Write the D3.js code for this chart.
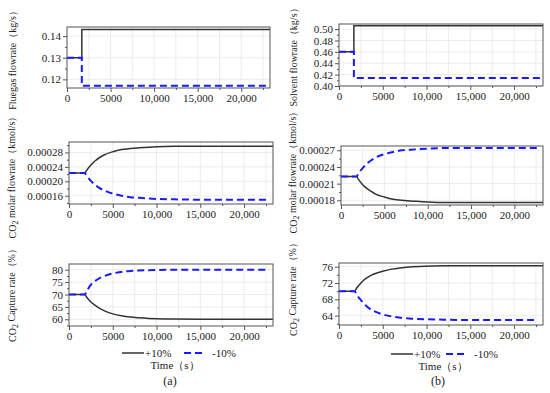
<!DOCTYPE html>
<head>
<meta charset="utf-8">
<title>Step responses</title>
<script src="https://d3js.org/d3.v7.min.js"></script>
<style>
body { margin: 0; background: #fff; }
svg text { font-family: "Liberation Serif", "Times New Roman", Times, serif; fill: #222; }
</style>
</head>
<body>
<script>
// time axes (s)
var tStep = [0, 1700, 1700, 23300];
var tCurve = [0, 1800, 2000, 2500, 3000, 3500, 4000, 5000, 6000, 7000, 8000, 10000, 12000, 15000, 20000, 23300];
var tCurveDash = [0, 1800, 2000, 2500, 3000, 3500, 4000, 5000, 6000, 7000, 8000, 10000, 12000, 15000, 20000, 22600];

// (a) flue gas flowrate kg/s
var fluePlus = [0.13, 0.13, 0.143, 0.143];
var flueMinus = [0.13, 0.13, 0.117, 0.117];
// (b) solvent flowrate kg/s
var solvPlus = [0.46, 0.46, 0.506, 0.506];
var solvMinus = [0.46, 0.46, 0.414, 0.414];

// CO2 molar flowrate kmol/s
var molarPlusA = [0.000223, 0.000223, 0.000230, 0.000245, 0.000257, 0.000266, 0.000273, 0.000282, 0.000288, 0.000291, 0.000293, 0.000296, 0.000297, 0.000297, 0.000297, 0.000297];
var molarMinusA = [0.000223, 0.000223, 0.000216, 0.000201, 0.000190, 0.000181, 0.000175, 0.000166, 0.000160, 0.000156, 0.000154, 0.000151, 0.000150, 0.000149, 0.000149, 0.000149];
var molarPlusB = [0.000223, 0.000223, 0.000218, 0.000208, 0.000201, 0.000196, 0.000191, 0.000186, 0.000182, 0.000180, 0.000179, 0.000177, 0.000176, 0.000176, 0.000176, 0.000176];
var molarMinusB = [0.000223, 0.000223, 0.000228, 0.000238, 0.000246, 0.000252, 0.000257, 0.000263, 0.000267, 0.000270, 0.000271, 0.000273, 0.000274, 0.000274, 0.000274, 0.000274];

// CO2 capture rate %
var capPlusA = [70, 70, 69.0, 67.0, 65.6, 64.4, 63.5, 62.2, 61.4, 60.9, 60.6, 60.2, 60.1, 60.0, 60.0, 60.0];
var capMinusA = [70, 70, 71.2, 74.0, 75.5, 76.6, 77.4, 78.5, 79.1, 79.5, 79.7, 79.9, 80, 80, 80, 80];
var capPlusB = [70, 70, 70.7, 72.0, 73.0, 73.7, 74.2, 74.9, 75.4, 75.7, 75.9, 76.1, 76.2, 76.2, 76.2, 76.2];
var capMinusB = [70, 70, 69.2, 67.8, 66.6, 65.7, 65.1, 64.3, 63.8, 63.5, 63.3, 63.1, 63.0, 62.9, 62.9, 62.9];

var xTicks = [0, 5000, 10000, 15000, 20000];
var legendLabels = ["+10%", "-10%"];

var serif = "'Liberation Serif', 'Times New Roman', Times, serif";
var width = 550, height = 393;
var svg = d3.select("body").append("svg")
    .attr("width", width)
    .attr("height", height)
    .attr("font-family", serif);

var panels = [
    {id: "a1", x0: 67, x1: 270, y0: 27, y1: 88, ydom: [0.116, 0.1442], yt: [0.12, 0.13, 0.14], ym: 0.005, fmt: ".2f",
     t1: tStep, plus: fluePlus, t2: tStep, minus: flueMinus, lx: 12, ly: 58, label: ["Fluegas flowrate（kg/s）"]},
    {id: "a2", x0: 69, x1: 273, y0: 142, y1: 204, ydom: [0.000137, 0.000309], yt: [0.00016, 0.0002, 0.00024, 0.00028], ym: 0.00002, fmt: ".5f",
     t1: tCurve, plus: molarPlusA, t2: tCurveDash, minus: molarMinusA, lx: 12, ly: 175, label: ["CO", "2", " molar flowrate（kmol/s）"]},
    {id: "a3", x0: 69, x1: 273, y0: 264, y1: 326, ydom: [57.3, 82.3], yt: [60, 65, 70, 75, 80], ym: 2.5, fmt: "d",
     t1: tCurve, plus: capPlusA, t2: tCurveDash, minus: capMinusA, lx: 12, ly: 293, label: ["CO", "2", " Capture rate（%）"]},
    {id: "b1", x0: 339, x1: 543, y0: 24, y1: 86, ydom: [0.40, 0.509], yt: [0.40, 0.42, 0.44, 0.46, 0.48, 0.50], ym: 0.01, fmt: ".2f",
     t1: tStep, plus: solvPlus, t2: tStep, minus: solvMinus, lx: 293, ly: 55, label: ["Solvent flowrate（kg/s）"]},
    {id: "b2", x0: 341, x1: 543, y0: 146, y1: 205, ydom: [0.0001716, 0.0002777], yt: [0.00018, 0.00021, 0.00024, 0.00027], ym: 0.000015, fmt: ".5f",
     t1: tCurve, plus: molarPlusB, t2: tCurveDash, minus: molarMinusB, lx: 293, ly: 170, label: ["CO", "2", " molar flowrate（kmol/s）"]},
    {id: "b3", x0: 339, x1: 543, y0: 263, y1: 325, ydom: [61.7, 76.9], yt: [64, 68, 72, 76], ym: 2, fmt: "d",
     t1: tCurve, plus: capPlusB, t2: tCurveDash, minus: capMinusB, lx: 293, ly: 287, label: ["CO", "2", " Capture rate（%）"]}
];

panels.forEach(function(p) {
    var x = d3.scaleLinear().domain([0, 23300]).range([p.x0, p.x1]);
    var y = d3.scaleLinear().domain(p.ydom).range([p.y1, p.y0]);
    var g = svg.append("g");

    svg.append("clipPath").attr("id", "clip-" + p.id)
        .append("rect").attr("x", p.x0).attr("y", p.y0)
        .attr("width", p.x1 - p.x0).attr("height", p.y1 - p.y0);

    // faint grid
    var xg = d3.range(2500, 23300, 2500);
    g.selectAll(".gx").data(xg).enter().append("line")
        .attr("x1", function(d) { return x(d); }).attr("x2", function(d) { return x(d); })
        .attr("y1", p.y0).attr("y2", p.y1)
        .attr("stroke", "#ececec").attr("stroke-width", 1);
    g.selectAll(".gy").data(p.yt).enter().append("line")
        .attr("x1", p.x0).attr("x2", p.x1)
        .attr("y1", function(d) { return y(d); }).attr("y2", function(d) { return y(d); })
        .attr("stroke", "#ececec").attr("stroke-width", 1);

    // axes
    var xAxis = d3.axisBottom(x).tickValues(xTicks).tickSize(4).tickPadding(2)
        .tickFormat(function(d) { return d < 10000 ? String(d) : d3.format(",")(d); });
    var xMinor = d3.axisBottom(x).tickValues(d3.range(2500, 23300, 5000)).tickSize(2).tickFormat("");
    var yAxis = d3.axisLeft(y).tickValues(p.yt).tickSize(4).tickPadding(2).tickFormat(d3.format(p.fmt));
    var yMinorVals = d3.range(p.yt[0] - p.ym, p.ydom[1], p.ym * 2).filter(function(v) { return v > p.ydom[0] && v < p.ydom[1]; });
    var yMinor = d3.axisLeft(y).tickValues(yMinorVals).tickSize(2).tickFormat("");

    [xAxis, xMinor].forEach(function(ax) {
        var a = g.append("g").attr("transform", "translate(0," + p.y1 + ")").call(ax).attr("font-family", serif);
        a.select(".domain").remove();
        a.selectAll("line").attr("stroke", "#555");
        a.selectAll("text").style("font-size", "11px").attr("fill", "#222");
    });
    [yAxis, yMinor].forEach(function(ax) {
        var a = g.append("g").attr("transform", "translate(" + p.x0 + ",0)").call(ax).attr("font-family", serif);
        a.select(".domain").remove();
        a.selectAll("line").attr("stroke", "#555");
        a.selectAll("text").style("font-size", "11px").attr("fill", "#222");
    });

    // lines
    var plot = g.append("g").attr("clip-path", "url(#clip-" + p.id + ")");
    var line = d3.line().x(function(d) { return x(d[0]); }).y(function(d) { return y(d[1]); })
        .curve(p.t1 === tStep ? d3.curveLinear : d3.curveMonotoneX);
    plot.append("path")
        .attr("d", line(d3.zip(p.t1, p.plus)))
        .attr("fill", "none").attr("stroke", "#333").attr("stroke-width", 1.5);
    plot.append("path")
        .attr("d", line(d3.zip(p.t2, p.minus)))
        .attr("fill", "none").attr("stroke", "#1a1aff").attr("stroke-width", 2)
        .attr("stroke-dasharray", "7,4");

    // frame
    g.append("rect").attr("x", p.x0).attr("y", p.y0)
        .attr("width", p.x1 - p.x0).attr("height", p.y1 - p.y0)
        .attr("fill", "none").attr("stroke", "#555").attr("stroke-width", 1);

    // y label
    var t = svg.append("text")
        .attr("transform", "translate(" + p.lx + "," + p.ly + ") rotate(-90)")
        .attr("text-anchor", "middle").attr("dy", "0.35em")
        .style("font-size", "10px");
    if (p.label.length === 1) {
        t.text(p.label[0]);
    } else {
        t.append("tspan").text(p.label[0]);
        t.append("tspan").attr("dy", "0.3em").style("font-size", "8px").text(p.label[1]);
        t.append("tspan").attr("dy", "-0.3em").text(p.label[2]);
    }
});

// legends and captions
[{x: 122, dx: 184, tx: 175, y: 353, cap: "(a)"}, {x: 391, dx: 446, tx: 443, y: 354, cap: "(b)"}].forEach(function(l) {
    var lg = svg.append("g");
    lg.append("line").attr("x1", l.x).attr("x2", l.x + 22).attr("y1", l.y).attr("y2", l.y)
        .attr("stroke", "#333").attr("stroke-width", 1.5);
    lg.append("text").attr("x", l.x + 23).attr("y", l.y).attr("dy", "0.35em")
        .style("font-size", "11px").text(legendLabels[0]);
    lg.append("line").attr("x1", l.dx).attr("x2", l.dx + 22).attr("y1", l.y).attr("y2", l.y)
        .attr("stroke", "#1a1aff").attr("stroke-width", 2).attr("stroke-dasharray", "7,4");
    lg.append("text").attr("x", l.dx + 28).attr("y", l.y).attr("dy", "0.35em")
        .style("font-size", "11px").text(legendLabels[1]);
    svg.append("text").attr("x", l.tx).attr("y", l.y + 12).attr("dy", "0.35em")
        .attr("text-anchor", "middle").style("font-size", "11px").text("Time（s）");
    svg.append("text").attr("x", l.tx - 5).attr("y", 381).attr("dy", "0.35em")
        .attr("text-anchor", "middle").style("font-size", "12px").text(l.cap);
});
</script>
</body>
